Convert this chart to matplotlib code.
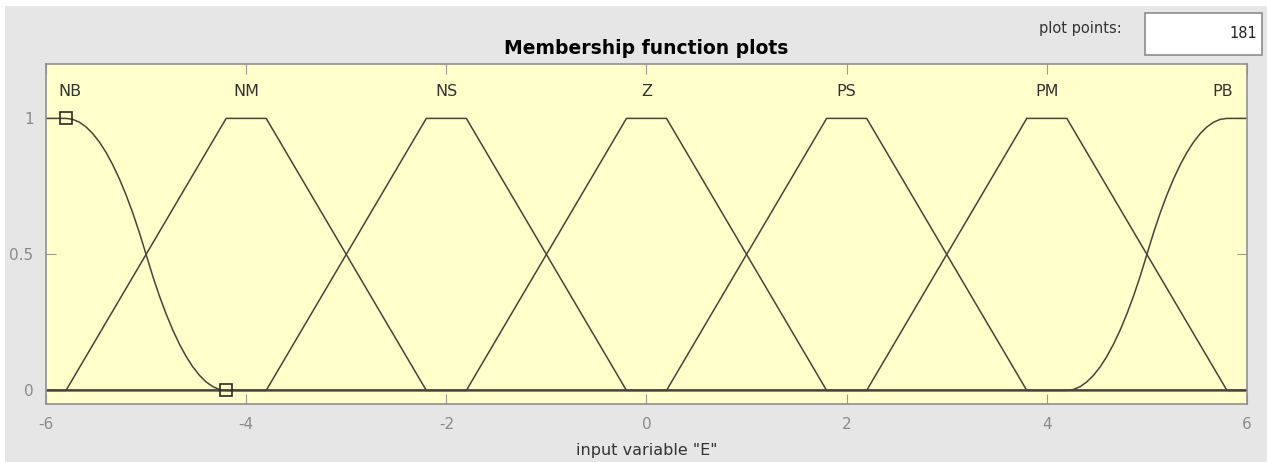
import numpy as np
import matplotlib.pyplot as plt
from matplotlib.patches import Rectangle

plt.rcParams["axes.unicode_minus"] = False

# membership functions of input variable "E"
mf_names = ["NB", "NM", "NS", "Z", "PS", "PM", "PB"]
nb_params = [-5.8, -4.2]          # zmf
pb_params = [4.2, 5.8]            # smf
trap_params = [
    [-5.8, -4.2, -3.8, -2.2],     # NM
    [-3.8, -2.2, -1.8, -0.2],     # NS
    [-1.8, -0.2, 0.2, 1.8],       # Z
    [0.2, 1.8, 2.2, 3.8],         # PS
    [2.2, 3.8, 4.2, 5.8],         # PM
]
label_x = [-5.76, -4, -2, 0, 2, 4, 5.76]
x_range = [-6, 6]
n_points = 181
x_ticks = [-6, -4, -2, 0, 2, 4, 6]
y_ticks = [0, 0.5, 1]
y_ticklabels = ["0", "0.5", "1"]


def zmf(x, a, b):
    m = (a + b) / 2
    y = np.ones_like(x)
    y[(x > a) & (x <= m)] = 1 - 2 * ((x[(x > a) & (x <= m)] - a) / (b - a)) ** 2
    y[(x > m) & (x < b)] = 2 * ((x[(x > m) & (x < b)] - b) / (b - a)) ** 2
    y[x >= b] = 0
    return y


def smf(x, a, b):
    return 1 - zmf(x, a, b)


line_col = "#45453a"
grey_txt = "#8a8a8a"

fig = plt.figure(figsize=(12.67, 4.62), dpi=100)
fig.patch.set_facecolor("#e6e6e6")
# white strip along top and left edge
fig.patches.append(Rectangle((0, 0.987), 1, 0.013, transform=fig.transFigure,
                             facecolor="white", edgecolor="none", zorder=-1))
fig.patches.append(Rectangle((0, 0), 0.004, 1, transform=fig.transFigure,
                             facecolor="white", edgecolor="none", zorder=-1))

ax = fig.add_axes([0.0363, 0.1255, 0.9479, 0.736])
ax.set_facecolor("#ffffcc")

x = np.linspace(x_range[0], x_range[1], n_points)
ax.plot(x, zmf(x, *nb_params), color=line_col, lw=1.1)
for p in trap_params:
    ax.plot([x_range[0]] + p + [x_range[1]], [0, 0, 1, 1, 0, 0], color=line_col, lw=1.1)
ax.plot(x, smf(x, *pb_params), color=line_col, lw=1.1)

# selected function handles
ax.plot(nb_params, [1, 0], linestyle="none", marker="s", markersize=8.5,
        markerfacecolor="none", markeredgecolor="#2a2a22", markeredgewidth=1.2)

for name, lx in zip(mf_names, label_x):
    ax.text(lx, 1.1, name, ha="center", va="center", fontsize=11.5, color="#333333")

ax.set_xlim(x_range)
ax.set_ylim(-0.05, 1.2)
ax.set_xticks(x_ticks)
ax.set_yticks(y_ticks)
ax.set_yticklabels(y_ticklabels)
ax.tick_params(direction="in", length=7, color="#999999", labelcolor=grey_txt,
               labelsize=11, top=True, right=True, pad=9)
for s in ax.spines.values():
    s.set_color("#909090")
    s.set_linewidth(1.2)

ax.set_xlabel('input variable "E"', fontsize=11.5, color="#333333", labelpad=8)
ax.set_title("Membership function plots", fontsize=13.5, fontweight="bold", pad=7)

# plot points field
fig.text(1080 / 1267, 1 - 29 / 462, "plot points:", fontsize=10.5, color="#333333",
         ha="center", va="center")
fig.patches.append(Rectangle((1145 / 1267, 1 - 55 / 462), 117 / 1267, 42 / 462,
                             transform=fig.transFigure, facecolor="white",
                             edgecolor="#8c8c8c", lw=1.2))
fig.text(1257 / 1267, 1 - 34 / 462, "181", fontsize=10.5, color="#222222",
         ha="right", va="center")

fig.savefig("out.png", dpi=100, facecolor=fig.get_facecolor())
